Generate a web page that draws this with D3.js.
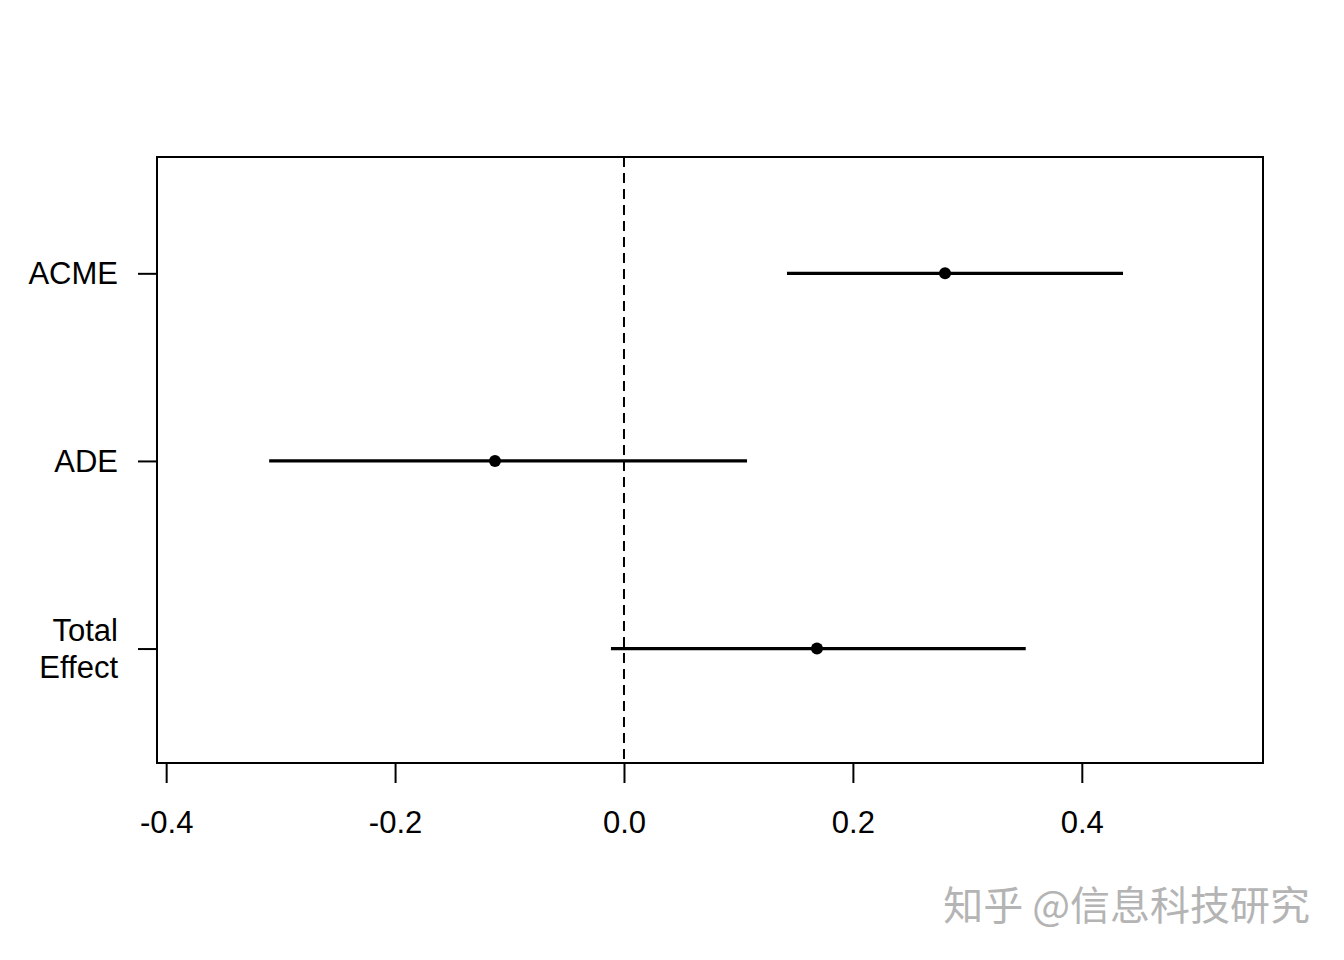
<!DOCTYPE html>
<html>
<head>
<meta charset="utf-8">
<script src="https://cdn.jsdelivr.net/npm/d3@7"></script>
<style>
  body { margin: 0; background: #fff; }
  svg text { font-family: "Liberation Sans", Arial, sans-serif; fill: #000; }
</style>
</head>
<body>
<svg id="chart" width="1344" height="960"></svg>
<script>
const labels = [['ACME'], ['ADE'], ['Total', 'Effect']];
const estimates = [0.2805, -0.1127, 0.1686];
const lower = [0.1424, -0.310, -0.0114];
const upper = [0.436, 0.1075, 0.351];
const xTicks = [-0.4, -0.2, 0.0, 0.2, 0.4];

const box = { left: 157, right: 1263, top: 157, bottom: 763 };
const svg = d3.select('#chart');

const x = d3.scaleLinear().domain([-0.408, 0.5583]).range([box.left, box.right]);
const y = d3.scaleLinear().domain([0.38, 3.61]).range([box.top, box.bottom]);

const rows = labels.map((l, i) => ({ label: l, est: estimates[i], lo: lower[i], hi: upper[i], pos: i + 1 }));

// zero reference line
svg.append('line')
  .attr('x1', x(0)).attr('x2', x(0))
  .attr('y1', box.top).attr('y2', box.bottom)
  .attr('stroke', '#000')
  .attr('stroke-width', 2)
  .attr('stroke-dasharray', '10,6');

// intervals
svg.append('g')
  .selectAll('line')
  .data(rows)
  .enter()
  .append('line')
  .attr('x1', (d) => x(d.lo))
  .attr('x2', (d) => x(d.hi))
  .attr('y1', (d) => y(d.pos))
  .attr('y2', (d) => y(d.pos))
  .attr('stroke', '#000')
  .attr('stroke-width', 3.2);

svg.append('g')
  .selectAll('circle')
  .data(rows)
  .enter()
  .append('circle')
  .attr('cx', (d) => x(d.est))
  .attr('cy', (d) => y(d.pos))
  .attr('r', 6)
  .attr('fill', '#000');

// frame
svg.append('rect')
  .attr('x', box.left).attr('y', box.top)
  .attr('width', box.right - box.left)
  .attr('height', box.bottom - box.top)
  .attr('fill', 'none')
  .attr('stroke', '#000')
  .attr('stroke-width', 2);

// x axis
const xAxis = d3.axisBottom(x)
  .tickValues(xTicks)
  .tickSize(20)
  .tickPadding(28)
  .tickFormat(d3.format('.1f'));

const gx = svg.append('g')
  .attr('transform', `translate(0,${box.bottom})`)
  .call(xAxis);
gx.select('.domain')
  .attr('d', `M${x(xTicks[0])},0H${x(xTicks[xTicks.length - 1])}`)
  .attr('stroke-width', 2);
gx.selectAll('.tick line').attr('stroke-width', 2);
gx.selectAll('.tick text')
  .attr('font-size', 31)
  .attr('font-family', '"Liberation Sans", Arial, sans-serif')
  .text((d) => d3.format('.1f')(d).replace('−', '-'));

// y axis
const gy = svg.append('g')
  .attr('transform', `translate(${box.left},0)`)
  .call(d3.axisLeft(y).tickValues(rows.map((d) => d.pos)).tickSize(19).tickFormat(''));
gy.select('.domain').remove();
gy.selectAll('.tick line').attr('stroke-width', 2);

const ylab = svg.append('g')
  .selectAll('text')
  .data(rows)
  .enter()
  .append('text')
  .attr('x', 118)
  .attr('y', (d) => y(d.pos))
  .attr('text-anchor', 'end')
  .attr('font-size', 31);
ylab.each(function (d) {
  const t = d3.select(this);
  const n = d.label.length;
  d.label.forEach((line, j) => {
    t.append('tspan')
      .attr('x', 118)
      .attr('dy', j === 0 ? (n === 1 ? '0.36em' : `${-0.6 * (n - 1) + 0.36}em`) : '1.2em')
      .text(line);
  });
});

// watermark
svg.append('text')
  .attr('x', 1310)
  .attr('y', 920)
  .attr('text-anchor', 'end')
  .attr('font-size', 40)
  .style('font-family', '"Noto Sans CJK SC", sans-serif')
  .style('fill', '#b4b4b4')
  .text('知乎 @信息科技研究');
</script>
</body>
</html>
